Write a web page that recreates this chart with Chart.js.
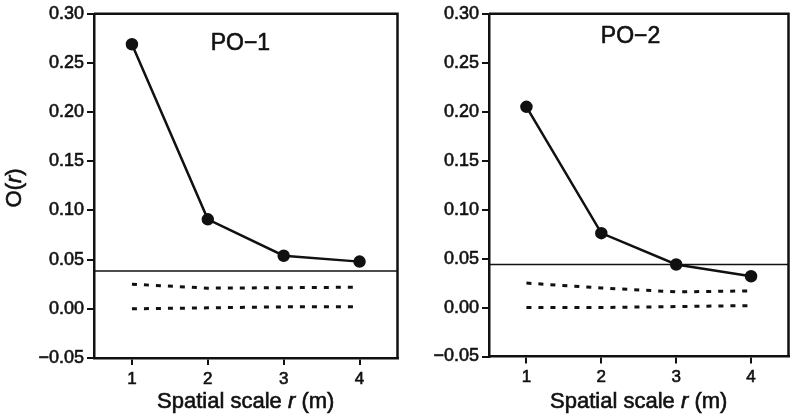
<!DOCTYPE html>
<html>
<head>
<meta charset="utf-8">
<script src="https://cdn.jsdelivr.net/npm/chart.js@4"></script>
<style>
  html, body { margin: 0; padding: 0; background: #fff; }
  body { width: 790px; height: 415px; overflow: hidden; position: relative; }
  .panel { position: absolute; top: 0; }
</style>
</head>
<body>
<div class="panel" style="left:0"><canvas id="po1" width="405" height="415"></canvas></div>
<div class="panel" style="left:400px"><canvas id="po2" width="396" height="415"></canvas></div>
<script>
// spatial scale r (m)
const SCALES_R = [1, 2, 3, 4];
const X_TICKS = [1, 2, 3, 4];
const Y_TICKS = [-0.05, 0, 0.05, 0.10, 0.15, 0.20, 0.25, 0.30];

// PO-1
const PO1_OBS = [0.269, 0.091, 0.054, 0.048];
const PO1_ENV_HI = [0.025, 0.021, 0.0215, 0.022];
const PO1_ENV_LO = [0.000, 0.001, 0.002, 0.002];
const PO1_LIMIT = 0.0385;

// PO-2
const PO2_OBS = [0.205, 0.076, 0.044, 0.032];
const PO2_ENV_HI = [0.025, 0.020, 0.016, 0.017];
const PO2_ENV_LO = [0.000, 0.000, 0.001, 0.002];
const PO2_LIMIT = 0.044;

const X_MIN = 0.5, X_MAX = 4.5;
const INK = '#111';
const FONT = '"Liberation Sans", Arial, Helvetica, sans-serif';

const pts = ys => SCALES_R.map((x, i) => ({ x: x, y: ys[i] }));

// frame + panel label + axis titles with italic r
const decor = {
  id: 'decor',
  afterDraw(chart, args, opts) {
    const { ctx, chartArea: a, scales } = chart;
    ctx.save();
    ctx.strokeStyle = INK;
    ctx.lineWidth = 2.5;
    ctx.beginPath();
    ctx.moveTo(a.left, a.top);
    ctx.lineTo(a.right, a.top);
    ctx.lineTo(a.right, a.bottom);
    ctx.stroke();

    ctx.fillStyle = INK;
    ctx.lineWidth = 0.6;
    ctx.textBaseline = 'middle';
    ctx.textAlign = 'center';
    ctx.font = '23px ' + FONT;
    const lx = scales.x.getPixelForValue(opts.labelX), ly = scales.y.getPixelForValue(opts.labelY);
    ctx.fillText(opts.label, lx, ly);
    ctx.strokeText(opts.label, lx, ly);

    const drawParts = (parts, size) => {
      let w = 0;
      parts.forEach(p => { ctx.font = (p.italic ? 'italic ' : '') + size + 'px ' + FONT; w += ctx.measureText(p.t).width; });
      let x = -w / 2;
      ctx.textAlign = 'left';
      parts.forEach(p => {
        ctx.font = (p.italic ? 'italic ' : '') + size + 'px ' + FONT;
        ctx.fillText(p.t, x, 0);
        ctx.strokeText(p.t, x, 0);
        x += ctx.measureText(p.t).width;
      });
    };

    ctx.save();
    ctx.translate((scales.x.left + scales.x.right) / 2, 402);
    drawParts([{ t: 'Spatial scale ' }, { t: 'r', italic: true }, { t: ' (m)' }], 22);
    ctx.restore();

    if (opts.yTitle) {
      ctx.save();
      ctx.translate(15, (a.top + a.bottom) / 2 + 2);
      ctx.rotate(-Math.PI / 2);
      drawParts([{ t: 'O(' }, { t: 'r', italic: true }, { t: ')' }], 22);
      ctx.restore();
    }
    ctx.restore();
  }
};

function makeChart(id, obs, hi, lo, limit, cfg) {
  new Chart(document.getElementById(id), {
    type: 'line',
    data: {
      datasets: [
        { data: pts(obs), borderColor: INK, backgroundColor: INK, borderWidth: 2.5,
          pointRadius: 5, pointHoverRadius: 5, order: 0 },
        { data: [{ x: X_MIN, y: limit }, { x: X_MAX, y: limit }], borderColor: INK,
          borderWidth: 1.5, pointRadius: 0, order: 1 },
        { data: pts(hi), borderColor: INK, borderWidth: 3, borderDash: [5, 7],
          pointRadius: 0, order: 2 },
        { data: pts(lo), borderColor: INK, borderWidth: 3, borderDash: [5, 7],
          pointRadius: 0, order: 3 }
      ]
    },
    options: {
      responsive: false,
      animation: false,
      devicePixelRatio: 1,
      events: [],
      layout: { padding: { top: cfg.top, right: cfg.right, left: 0, bottom: 0 } },
      plugins: {
        legend: { display: false },
        tooltip: { enabled: false },
        decor: { label: cfg.label, labelX: cfg.labelX, labelY: cfg.labelY, yTitle: cfg.yTitle }
      },
      scales: {
        x: {
          type: 'linear', min: X_MIN, max: X_MAX,
          afterBuildTicks: s => { s.ticks = X_TICKS.map(v => ({ value: v })); },
          afterFit: s => { s.height = cfg.xHeight; },
          border: { display: true, color: INK, width: 2.5 },
          grid: { drawOnChartArea: false, drawTicks: true, tickLength: 7, color: INK, lineWidth: 2 },
          ticks: { color: INK, font: { family: FONT, size: 17 }, padding: 4, maxRotation: 0,
            textStrokeColor: INK, textStrokeWidth: 0.6 }
        },
        y: {
          min: -0.05, max: 0.30,
          afterBuildTicks: s => { s.ticks = Y_TICKS.map(v => ({ value: v })); },
          afterFit: s => { s.width = cfg.yWidth; },
          border: { display: true, color: INK, width: 2.5 },
          grid: { drawOnChartArea: false, drawTicks: true, tickLength: 7, color: INK, lineWidth: 2 },
          ticks: {
            color: INK, font: { family: FONT, size: 18 }, padding: 3,
            textStrokeColor: INK, textStrokeWidth: 0.6,
            callback: v => (v < 0 ? '\u2212' : '') + Math.abs(v).toFixed(2)
          }
        }
      }
    },
    plugins: [decor]
  });
}

makeChart('po1', PO1_OBS, PO1_ENV_HI, PO1_ENV_LO, PO1_LIMIT,
  { top: 13, right: 5, xHeight: 57, yWidth: 94, label: 'PO\u22121', labelX: 2.43, labelY: 0.27, yTitle: true });
makeChart('po2', PO2_OBS, PO2_ENV_HI, PO2_ENV_LO, PO2_LIMIT,
  { top: 11, right: 0, xHeight: 58.5, yWidth: 89, label: 'PO\u22122', labelX: 2.39, labelY: 0.277, yTitle: false });
</script>
</body>
</html>
